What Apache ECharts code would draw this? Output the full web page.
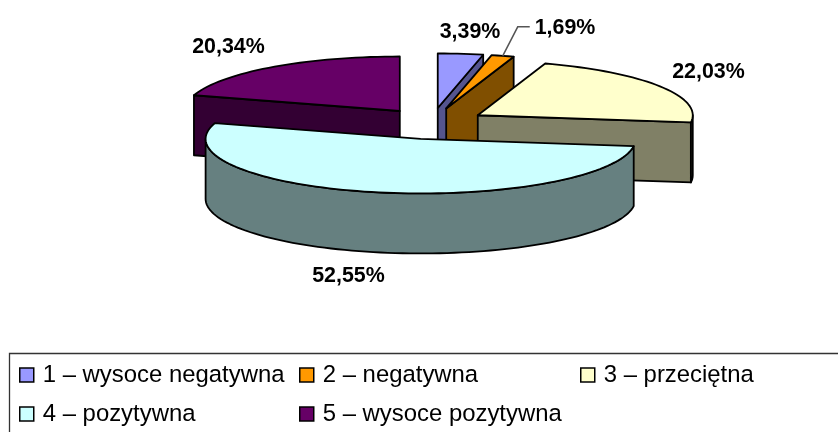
<!DOCTYPE html>
<html><head><meta charset="utf-8">
<style>html,body{margin:0;padding:0;background:#fff;overflow:hidden}#c{width:838px;height:432px}</style>
<script src="https://cdn.jsdelivr.net/npm/echarts@6/dist/echarts.min.js"></script>
</head><body><div id="c"></div>
<script>
const categories = ['1 – wysoce negatywna','2 – negatywna','3 – przeciętna','4 – pozytywna','5 – wysoce pozytywna'];
const values = [3.39,1.69,22.03,52.55,20.34];
const topColors = ['#9999FF','#FF9900','#FFFFCC','#CCFFFF','#660066'];
const sideColors = ['#55558E','#804F00','#808066','#668080','#330033'];
const drawOrder = [0,1,2,4,3];

const GEO = {cx:432, cy:123.6, rx:215, ry:54.5, ex:54, ey:15.7, depth:60};
const labelPos = [[470,32],[565,28],[708.5,72],[348.5,276],[228.5,47]];
const legendPos = [[19,363],[299,363],[580,363],[19,402],[299,402]];

const total = values.reduce((a,b)=>a+b,0);
const rad = d => d*Math.PI/180;
let acc = 0;
const spans = values.map(v=>{const s=acc; acc+=v/total*360; return [s,acc];});

function apex(i){
  const m = rad((spans[i][0]+spans[i][1])/2);
  return [GEO.cx+GEO.ex*Math.sin(m), GEO.cy-GEO.ey*Math.cos(m)];
}
function pt(i,deg,dy){
  const a=apex(i), t=rad(deg);
  return [a[0]+GEO.rx*Math.sin(t), a[1]-GEO.ry*Math.cos(t)+(dy||0)];
}
function arc(i,d0,d1,dy){
  const n=Math.max(2,Math.ceil(Math.abs(d1-d0)/2)), out=[];
  for(let k=0;k<=n;k++) out.push(pt(i,d0+(d1-d0)*k/n,dy));
  return out;
}
function shape(points,fill){
  return {type:'polygon',shape:{points},style:{fill,stroke:'#000',lineWidth:1.8,lineJoin:'round'}};
}
function renderSlice(i){
  const [s,e]=spans[i], a=apex(i), children=[], d=GEO.depth;
  if(e<180){
    const p=pt(i,e);
    children.push(shape([a,p,[p[0],p[1]+d],[a[0],a[1]+d]],sideColors[i]));
  }
  if(s>270){
    const p=pt(i,s);
    children.push(shape([a,p,[p[0],p[1]+d],[a[0],a[1]+d]],sideColors[i]));
  }
  const r0=Math.max(s,90), r1=Math.min(e,270);
  if(r1>r0){
    const top=arc(i,r0,r1,0), bot=arc(i,r1,r0,d);
    children.push(shape(top.concat(bot),sideColors[i]));
  }
  children.push(shape([a].concat(arc(i,s,e,0)),topColors[i]));
  return children;
}
function pctText(v){return v.toFixed(2).replace('.',',')+'%';}
function labelEl(i){
  return {type:'text',z2:50,style:{text:pctText(values[i]),x:labelPos[i][0],y:labelPos[i][1],
    align:'center',verticalAlign:'middle',font:'bold 21.4px "Liberation Sans", Arial, sans-serif',fill:'#000'}};
}
const series = drawOrder.map((i,o)=>({
  type:'custom',name:categories[i],coordinateSystem:'none',silent:true,z:2+o,
  itemStyle:{color:topColors[i]},
  data:[[values[i]]],
  renderItem(){
    const children=renderSlice(i);
    children.push(labelEl(i));
    if(i===1){
      const m=(spans[i][0]+spans[i][1])/2, p=pt(i,m);
      children.push({type:'polyline',shape:{points:[p,[p[0]+15,p[1]-29],[p[0]+27,p[1]-29]]},
        style:{fill:null,stroke:'#555',lineWidth:1.5}});
    }
    return {type:'group',children};
  }
}));
const chart = echarts.init(document.getElementById('c'),null,{renderer:'canvas'});
chart.setOption({
  animation:false,
  backgroundColor:'#fff',
  graphic:[{type:'rect',z:0,silent:true,shape:{x:9.5,y:353.5,width:900,height:120},
    style:{fill:'#fff',stroke:'#333',lineWidth:1.3}}],
  legend:categories.map((c,i)=>({
    left:legendPos[i][0],top:legendPos[i][1],padding:0,
    data:[c],icon:'rect',itemWidth:14,itemHeight:14,
    selectedMode:false,
    itemStyle:{borderColor:'#000',borderWidth:1.5},
    textStyle:{fontFamily:'"Liberation Sans", Arial, sans-serif',fontSize:23.9,color:'#000',padding:[0,0,0,4]}
  })),
  series
});
</script></body></html>
